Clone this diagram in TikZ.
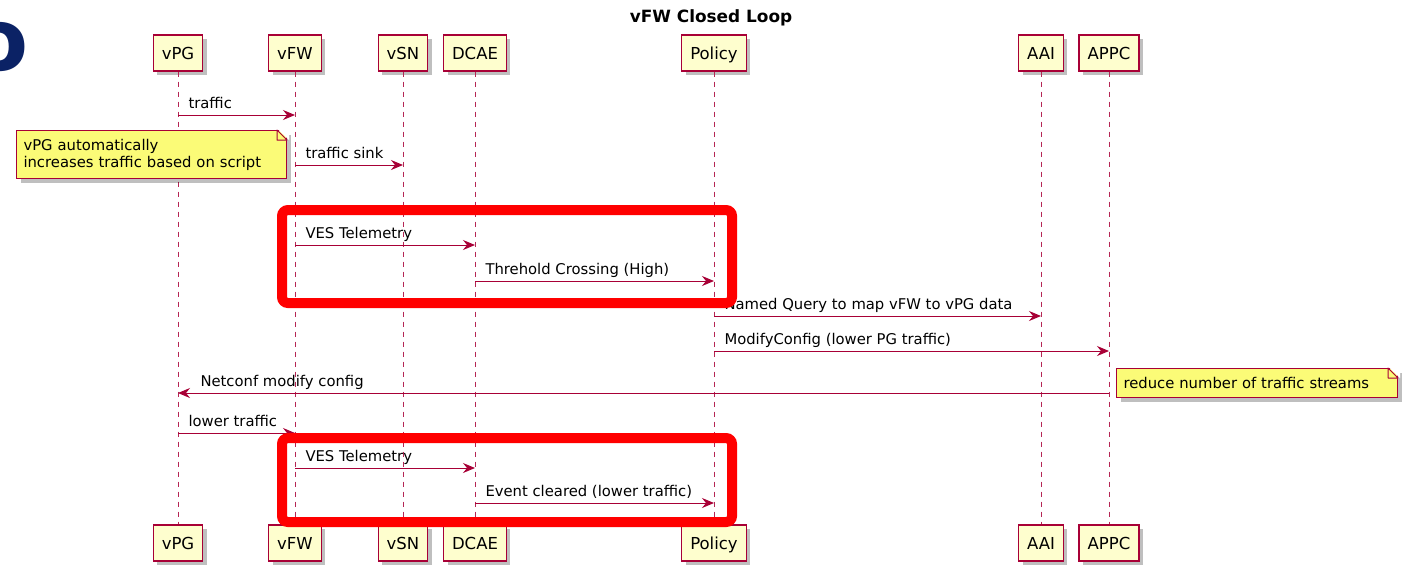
\documentclass[tikz,border=0pt]{standalone}
\usepackage{fontspec}
\setmainfont{DejaVu Sans}
\usetikzlibrary{positioning, arrows.meta, shadows}
\definecolor{umlred}{HTML}{A80036}
\definecolor{partfill}{HTML}{FEFECE}
\definecolor{notefill}{HTML}{FBFB77}
\definecolor{navy}{HTML}{0B2265}

\tikzset{
  part/.style={draw=umlred, fill=partfill, line width=1.4pt,
    inner xsep=8.5pt, inner ysep=8pt, text height=16pt, text depth=4pt,
    font=\fontsize{16.5}{19}\selectfont,
    drop shadow={shadow xshift=4pt, shadow yshift=-4pt, opacity=0.25, fill=black}},
  life/.style={umlred!85, line width=0.8pt, dash pattern=on 5pt off 5pt},
  msg/.style={umlred, line width=1pt, -{Stealth[length=12pt, width=10pt, inset=4pt]}},
  lbl/.style={font=\fontsize{14.8}{17}\selectfont, text=black, inner sep=0pt, anchor=base west, yshift=7pt},
  note/.style={draw=umlred, fill=notefill, line width=1pt, anchor=north west, align=left,
    inner xsep=7pt, inner ysep=0pt, font=\fontsize{14.8}{17}\selectfont,
    drop shadow={shadow xshift=4pt, shadow yshift=-4pt, opacity=0.25, fill=black}},
  hilite/.style={draw=red, line width=10pt, rounded corners=6pt,
    preaction={draw=black, opacity=0.2, transform canvas={shift={(3pt,-3pt)}}}},
}

\begin{document}
\begin{tikzpicture}[x=1pt, y=-1pt]
  \useasboundingbox[fill=white] (0,0) rectangle (1408,566);

  \node[font=\bfseries\fontsize{86}{90}\selectfont, text=navy, anchor=base east, inner sep=0pt] (logo) at (29,70) {o};
  \node[font=\bfseries\fontsize{16.9}{19}\selectfont, anchor=base] (title) at (711,22) {vFW Closed Loop};

  % participants
  \node[part] (pg)     at (178,53)  {vPG};
  \node[part] (fw)     at (295,53)  {vFW};
  \node[part] (sn)     at (403,53)  {vSN};
  \node[part] (dcae)   at (475,53)  {DCAE};
  \node[part] (policy) at (714,53)  {Policy};
  \node[part] (aai)    at (1041,53) {AAI};
  \node[part] (appc)   at (1109,53) {APPC};

  \node[part] (pg2)     at (178,543)  {vPG};
  \node[part] (fw2)     at (295,543)  {vFW};
  \node[part] (sn2)     at (403,543)  {vSN};
  \node[part] (dcae2)   at (475,543)  {DCAE};
  \node[part] (policy2) at (714,543)  {Policy};
  \node[part] (aai2)    at (1041,543) {AAI};
  \node[part] (appc2)   at (1109,543) {APPC};

  \foreach \p in {pg,fw,sn,dcae,policy,aai,appc}
    \draw[life] (\p.south) -- (\p2.north);

  % messages
  \draw[msg] (pg |- 0,115) -- node[lbl, pos=0, xshift=10pt] {traffic} (fw |- 0,115);
  \draw[msg] (fw |- 0,165) -- node[lbl, pos=0, xshift=10pt] {traffic sink} (sn |- 0,165);
  \draw[msg] (fw |- 0,245) -- node[lbl, pos=0, xshift=10pt] {VES Telemetry} (dcae |- 0,245);
  \draw[msg] (dcae |- 0,281) -- node[lbl, pos=0, xshift=10pt] {Threhold Crossing (High)} (policy |- 0,281);
  \draw[msg] (policy |- 0,316) -- node[lbl, pos=0, xshift=10pt] {Named Query to map vFW to vPG data} (aai |- 0,316);
  \draw[msg] (policy |- 0,351) -- node[lbl, pos=0, xshift=10pt] {ModifyConfig (lower PG traffic)} (appc |- 0,351);
  \draw[msg] (appc |- 0,393) -- node[lbl, pos=1, xshift=22pt] {Netconf modify config} (pg |- 0,393);
  \draw[msg] (pg |- 0,433) -- node[lbl, pos=0, xshift=10pt] {lower traffic} (fw |- 0,433);
  \draw[msg] (fw |- 0,468) -- node[lbl, pos=0, xshift=10pt] {VES Telemetry} (dcae |- 0,468);
  \draw[msg] (dcae |- 0,503) -- node[lbl, pos=0, xshift=10pt] {Event cleared (lower traffic)} (policy |- 0,503);

  % notes
  \node[note, text width=256pt, minimum height=48pt] (note1) at (16,130) {vPG automatically\\increases traffic based on script};
  \fill[white] ([xshift=-10pt,yshift=1.5pt]note1.north east) -- ([xshift=2pt,yshift=1.5pt]note1.north east) -- ([xshift=2pt,yshift=-10pt]note1.north east) -- cycle;
  \draw[umlred, fill=notefill, line width=1pt, line join=round] ([xshift=-10pt]note1.north east) -- ([xshift=-10pt,yshift=-10pt]note1.north east) -- ([yshift=-10pt]note1.north east) -- cycle;

  \node[note, text width=267pt, minimum height=29pt] (note2) at (1116,368) {reduce number of traffic streams};
  \fill[white] ([xshift=-10pt,yshift=1.5pt]note2.north east) -- ([xshift=2pt,yshift=1.5pt]note2.north east) -- ([xshift=2pt,yshift=-10pt]note2.north east) -- cycle;
  \draw[umlred, fill=notefill, line width=1pt, line join=round] ([xshift=-10pt]note2.north east) -- ([xshift=-10pt,yshift=-10pt]note2.north east) -- ([yshift=-10pt]note2.north east) -- cycle;

  % highlights
  \draw[hilite] (282,210) rectangle (732,303);
  \draw[hilite] (282,438) rectangle (732,522);
\end{tikzpicture}
\end{document}
